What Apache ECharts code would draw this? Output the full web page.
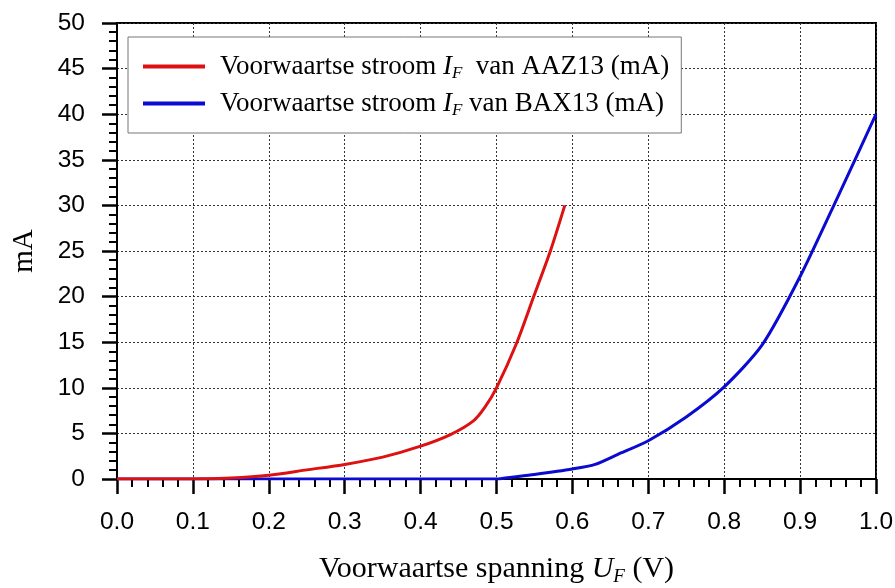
<!DOCTYPE html>
<html>
<head>
<meta charset="utf-8">
<script src="https://cdn.jsdelivr.net/npm/echarts@6/dist/echarts.min.js"></script>
<style>html,body{margin:0;padding:0;background:#fff}#c{width:895px;height:588px}</style>
</head>
<body>
<div id="c"></div>
<script>
// Forward voltage (V) and current (mA)
const aazU = [0.0, 0.10, 0.15, 0.20, 0.25, 0.30, 0.35, 0.40, 0.44, 0.47, 0.485, 0.50, 0.527, 0.549, 0.571, 0.59];
const aazI = [0.0, 0.0, 0.1, 0.4, 1.0, 1.6, 2.4, 3.6, 4.9, 6.4, 7.9, 10.0, 15.0, 20.0, 25.0, 30.0];
const baxU = [0.0, 0.50, 0.52, 0.55, 0.60, 0.63, 0.66, 0.70, 0.75, 0.80, 0.85, 0.90, 0.95, 1.00];
const baxI = [0.0, 0.0, 0.2, 0.5, 1.1, 1.6, 2.7, 4.2, 6.8, 10.1, 14.7, 22.2, 31.0, 40.0];
const xTicks = [0.0, 0.1, 0.2, 0.3, 0.4, 0.5, 0.6, 0.7, 0.8, 0.9, 1.0];
const yTicks = [0, 5, 10, 15, 20, 25, 30, 35, 40, 45, 50];
const seriesNames = ['AAZ13', 'BAX13'];

const serif = '"Liberation Serif", "DejaVu Serif", serif';
const sans = '"Liberation Sans", Arial, sans-serif';
const chart = echarts.init(document.getElementById('c'));
const pairs = (xs, ys) => xs.map((x, i) => [x, ys[i]]);

chart.setOption({
  animation: false,
  backgroundColor: '#fff',
  grid: {
    left: 117, right: 19, top: 23, bottom: 109, show: true, borderColor: '#000', borderWidth: 2,
    backgroundColor: 'transparent', containLabel: false, outerBoundsMode: 'none'
  },
  legend: {
    left: 128, top: 37, orient: 'vertical',
    padding: [14, 12, 14, 15],
    itemGap: 6,
    itemWidth: 62, itemHeight: 4,
    backgroundColor: '#fff',
    borderColor: '#777', borderWidth: 1,
    icon: 'rect',
    formatter: function (name) {
      return name === 'AAZ13'
        ? '{t|Voorwaartse stroom }{i|I}{s|F}{t|  van AAZ13 (mA)}'
        : '{t|Voorwaartse stroom }{i|I}{s|F}{t| van BAX13 (mA)}';
    },
    textStyle: {
      fontFamily: serif, fontSize: 27, color: '#000', padding: [0, 0, 0, 10], lineHeight: 30,
      rich: {
        t: { fontFamily: serif, fontSize: 27, color: '#000', lineHeight: 30 },
        i: { fontFamily: serif, fontSize: 27, fontStyle: 'italic', color: '#000', lineHeight: 30 },
        s: { fontFamily: serif, fontSize: 17, fontStyle: 'italic', color: '#000', lineHeight: 30, padding: [14, 0, 0, 0] }
      }
    },
    data: seriesNames
  },
  xAxis: {
    type: 'value', min: 0, max: 1, interval: 0.1,
    name: '{t|Voorwaartse spanning }{i|U}{s|F}{t| (V)}',
    nameLocation: 'middle', nameGap: 74,
    nameTextStyle: {
      rich: {
        t: { fontFamily: serif, fontSize: 30, color: '#000' },
        i: { fontFamily: serif, fontSize: 30, fontStyle: 'italic', color: '#000' },
        s: { fontFamily: serif, fontSize: 19, fontStyle: 'italic', color: '#000', padding: [14, 0, 0, 0] }
      }
    },
    axisLine: { lineStyle: { color: '#000', width: 2 } },
    axisTick: { show: true, inside: false, length: 15, lineStyle: { color: '#000', width: 2.5 } },
    minorTick: { show: true, splitNumber: 5, length: 8, lineStyle: { color: '#000', width: 2 } },
    axisLabel: { margin: 31, fontFamily: sans, fontSize: 24.5, color: '#000', formatter: v => xTicks.includes(+v.toFixed(1)) ? v.toFixed(1) : '' },
    splitLine: { show: true, lineStyle: { color: '#333', width: 1, type: [2, 2] } },
    minorSplitLine: { show: false }
  },
  yAxis: {
    type: 'value', min: 0, max: 50, interval: 5,
    name: 'mA', nameLocation: 'middle', nameGap: 78, nameRotate: 90,
    nameTextStyle: { fontFamily: serif, fontSize: 29, color: '#000' },
    axisLine: { show: true, lineStyle: { color: '#000', width: 2 } },
    axisTick: { show: true, inside: false, length: 15, lineStyle: { color: '#000', width: 2.5 } },
    minorTick: { show: true, splitNumber: 5, length: 8, lineStyle: { color: '#000', width: 2 } },
    axisLabel: { margin: 32, fontFamily: sans, fontSize: 24.5, color: '#000', formatter: v => yTicks.includes(v) ? String(v) : '' },
    splitLine: { show: true, lineStyle: { color: '#333', width: 1, type: [2, 2] } }
  },
  series: [
    {
      name: 'AAZ13', type: 'line', data: pairs(aazU, aazI), smooth: 0.25, showSymbol: false, z: 4,
      lineStyle: { color: '#dd1111', width: 3 }, itemStyle: { color: '#dd1111' }
    },
    {
      name: 'BAX13', type: 'line', data: pairs(baxU, baxI), smooth: 0.25, showSymbol: false, z: 3,
      lineStyle: { color: '#0a0ad0', width: 3 }, itemStyle: { color: '#0a0ad0' }
    }
  ]
});
</script>
</body>
</html>
